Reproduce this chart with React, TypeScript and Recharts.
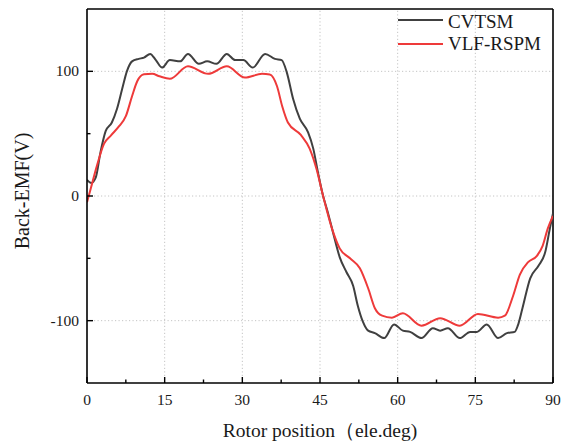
import React from 'react';
import { LineChart, Line, XAxis, YAxis, ReferenceLine, Legend } from 'recharts';

const CVTSM_X = [0, 0.8, 1.7, 2.6, 3.6, 4.8, 5.8, 6.8, 7.7, 8.7, 10, 11, 12.2, 13.3, 14.5, 16, 18, 19.5, 21.6, 23.2, 25, 27, 28.6, 30.2, 32, 34.4, 36.3, 37.6, 38.6, 39.8, 41.1, 42.7, 43.7, 44.6, 45.6, 46.5, 47.5, 48.8, 50.1, 51.4, 52.3, 53.3, 54.3, 55.6, 57.4, 59.3, 61, 62.4, 64.6, 66.8, 68.2, 69.7, 72, 74, 75.3, 77.2, 79.4, 81.1, 82.6, 83.2, 84.1, 85.6, 87.2, 88.5, 89.4, 90];
const CVTSM_Y = [13, 10.5, 15, 35, 52, 59, 70, 86, 100, 108, 110, 111, 114, 109, 103, 109, 108, 114, 106, 108, 106, 114, 109, 109, 103, 114, 110, 109, 99, 78, 62, 51, 38, 19, 0, -13, -29, -49, -61, -72, -88, -101, -108, -110, -114, -103, -108, -109, -114, -106, -108, -106, -114, -109, -109, -103, -114, -110, -109, -104, -90, -66, -56, -45, -26, -14];

const VLF_X = [0, 0.7, 1.9, 3.3, 4.6, 6.2, 7.5, 8.7, 9.7, 11, 12.6, 14, 16, 19.5, 23.4, 27, 30.5, 33.8, 35.3, 36.7, 37.7, 38.8, 41.3, 43, 44.3, 45.6, 47.3, 48.8, 50.8, 52.7, 54.3, 55.6, 57, 58.9, 61, 64.6, 68.2, 72, 75.5, 79.4, 80.7, 82.3, 83.6, 85.2, 86.9, 88, 89, 90];
const VLF_Y = [-5, 5.6, 24, 42, 48.5, 56, 64, 80, 92, 97.6, 98, 96, 94, 104, 98, 104, 95, 98, 97.5, 88, 72, 59, 49, 38, 22, 0, -26, -42, -50, -58, -74, -90, -96, -97.6, -94, -104, -98, -104, -94.6, -97.6, -96, -80, -63, -53, -48, -40, -26, -16];

const X_TICKS = [0, 7.5, 15, 22.5, 30, 37.5, 45, 52.5, 60, 67.5, 75, 82.5, 90];
const Y_TICKS = [-100, -50, 0, 50, 100];
const X_GRID = [15, 30, 45, 60, 75];
const Y_GRID = [-100, 0, 100];

const cvtsmData = CVTSM_X.map((x, i) => ({ x, v: CVTSM_Y[i] }));
const vlfData = VLF_X.map((x, i) => ({ x, v: VLF_Y[i] }));

const FONT = '"Liberation Serif", "Times New Roman", serif';
const DARK = '#404040';
const RED = '#ee3a3a';

const XTick = (props: any) => {
  const { x, y, payload } = props;
  const major = payload.value % 15 === 0;
  return (
    <g>
      <line x1={x} y1={y} x2={x} y2={y - (major ? 6 : 3.5)} stroke="#000" strokeWidth={1.4} />
      {major && (
        <text x={x} y={y + 22} textAnchor="middle" style={{ fontFamily: FONT, fontSize: 15.5 }} fill="#1a1a1a">
          {payload.value}
        </text>
      )}
    </g>
  );
};

const YTick = (props: any) => {
  const { x, y, payload } = props;
  const major = payload.value % 100 === 0;
  return (
    <g>
      <line x1={x} y1={y} x2={x + (major ? 6 : 3.5)} y2={y} stroke="#000" strokeWidth={1.4} />
      {major && (
        <text x={x - 8} y={y + 5} textAnchor="end" style={{ fontFamily: FONT, fontSize: 15.5 }} fill="#1a1a1a">
          {payload.value}
        </text>
      )}
    </g>
  );
};

const YLabel = (props: any) => {
  const vb = props.viewBox || {};
  const cx = (vb.x || 0) + 22;
  const cy = (vb.y || 0) + vb.height / 2 - 5;
  return (
    <text
      x={cx}
      y={cy}
      transform={`rotate(-90 ${cx} ${cy})`}
      textAnchor="middle"
      dominantBaseline="central"
      style={{ fontFamily: FONT, fontSize: 20 }}
      fill="#1a1a1a"
    >
      Back-EMF(V)
    </text>
  );
};

const LegendBox = () => (
  <div style={{ position: 'relative', width: 170, height: 50, fontFamily: FONT, fontSize: 19, lineHeight: '19px', color: '#1a1a1a' }}>
    <div style={{ position: 'absolute', left: 0, top: 11, width: 45, height: 2, background: DARK }} />
    <div style={{ position: 'absolute', left: 50, top: 3.6, whiteSpace: 'nowrap' }}>CVTSM</div>
    <div style={{ position: 'absolute', left: 0, top: 35, width: 45, height: 2, background: RED }} />
    <div style={{ position: 'absolute', left: 50, top: 26.1, whiteSpace: 'nowrap' }}>VLF-RSPM</div>
  </div>
);

export default function App() {
  return (
    <div style={{ position: 'absolute', left: 0, top: 0, width: 567, height: 441, background: '#fff' }}>
      <LineChart width={567} height={441} margin={{ top: 9, right: 14, left: 0, bottom: 0 }}>
        <XAxis
          dataKey="x"
          type="number"
          domain={[0, 90]}
          ticks={X_TICKS}
          interval={0}
          allowDataOverflow
          height={58}
          tickSize={0}
          tickMargin={0}
          tickLine={false}
          axisLine={{ stroke: '#000', strokeWidth: 1.6 }}
          tick={<XTick />}
          label={{ value: 'Rotor position（ele.deg)', position: 'insideBottom', offset: 4, style: { fontFamily: FONT, fontSize: 19.5 }, fill: '#1a1a1a' }}
        />
        <YAxis
          type="number"
          domain={[-150, 150]}
          ticks={Y_TICKS}
          interval={0}
          allowDataOverflow
          width={87}
          tickSize={0}
          tickMargin={0}
          tickLine={false}
          axisLine={{ stroke: '#000', strokeWidth: 1.6 }}
          tick={<YTick />}
          label={<YLabel />}
        />
        {X_GRID.map((g) => (
          <ReferenceLine key={'gx' + g} x={g} stroke="#c4c4c4" strokeWidth={1} strokeDasharray="1.2 2.3" />
        ))}
        {Y_GRID.map((g) => (
          <ReferenceLine key={'gy' + g} y={g} stroke="#c4c4c4" strokeWidth={1} strokeDasharray="1.2 2.3" />
        ))}
        <ReferenceLine y={150} stroke="#000" strokeWidth={1.6} />
        <ReferenceLine x={90} stroke="#000" strokeWidth={1.6} />
        <Line data={cvtsmData} dataKey="v" type="monotone" stroke={DARK} strokeWidth={2} dot={false} isAnimationActive={false} name="CVTSM" />
        <Line data={vlfData} dataKey="v" type="monotone" stroke={RED} strokeWidth={2} dot={false} isAnimationActive={false} name="VLF-RSPM" />
        <Legend
          layout="horizontal"
          verticalAlign="middle"
          align="center"
          content={<LegendBox />}
          wrapperStyle={{ left: 398, top: 8, width: 170, height: 50 }}
        />
      </LineChart>
    </div>
  );
}
